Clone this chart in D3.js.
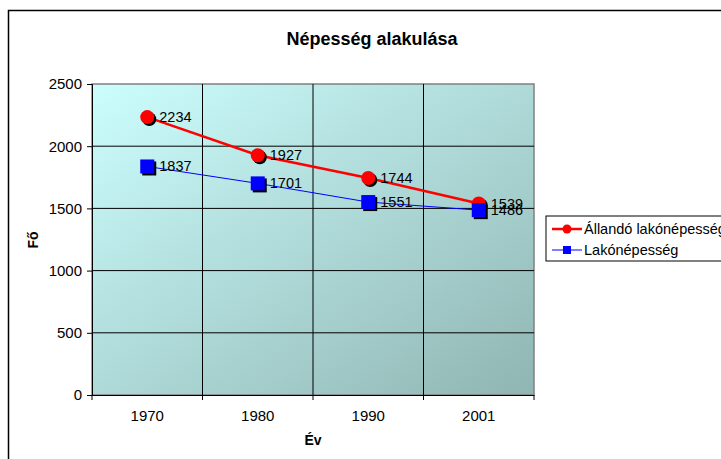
<!DOCTYPE html>
<html>
<head>
<meta charset="utf-8">
<script src="https://cdn.jsdelivr.net/npm/d3@7"></script>
<style>
body { margin: 0; background: #fff; }
text { font-family: "Liberation Sans", Arial, sans-serif; }
</style>
</head>
<body>
<div id="chart"></div>
<script>
var years = ['1970', '1980', '1990', '2001'];
var allando = [2234, 1927, 1744, 1539];
var lako = [1837, 1701, 1551, 1486];
var yTicks = [0, 500, 1000, 1500, 2000, 2500];

var svgWidth = 721;
var svgHeight = 459;

var margin = { top: 84, left: 92 };
var width = 442;
var height = 311;

var svg = d3.select('#chart')
    .append('svg')
    .attr('width', svgWidth)
    .attr('height', svgHeight);

var defs = svg.append('defs');
var grad = defs.append('linearGradient')
    .attr('id', 'bg')
    .attr('x1', '0').attr('y1', '0')
    .attr('x2', '1').attr('y2', '1');
grad.append('stop').attr('offset', '0%').attr('stop-color', '#ccfefe');
grad.append('stop').attr('offset', '100%').attr('stop-color', '#90b5b2');

// outer chart border
svg.append('rect')
    .attr('x', 8.5).attr('y', 10.5)
    .attr('width', 740).attr('height', 460)
    .attr('fill', 'none')
    .attr('stroke', '#000')
    .attr('stroke-width', 1.5);

svg.append('text')
    .attr('x', 372).attr('y', 45)
    .attr('text-anchor', 'middle')
    .attr('font-size', '18px')
    .attr('font-weight', 'bold')
    .text('Népesség alakulása');

var chartGroup = svg.append('g')
    .attr('transform', `translate(${margin.left}, ${margin.top})`);

var x = d3.scaleBand().domain(years).range([0, width]);
var y = d3.scaleLinear().domain([0, 2500]).range([height, 0]);

chartGroup.append('rect')
    .attr('width', width).attr('height', height)
    .attr('fill', 'url(#bg)')
    .attr('stroke', '#808080')
    .attr('stroke-width', 1.5);

// gridlines
chartGroup.selectAll('line.hgrid')
    .data(yTicks.slice(1, -1))
    .enter().append('line')
    .attr('class', 'hgrid')
    .attr('x1', 0).attr('x2', width)
    .attr('y1', d => y(d)).attr('y2', d => y(d))
    .attr('stroke', '#000').attr('stroke-width', 1);

chartGroup.selectAll('line.vgrid')
    .data(years.slice(1))
    .enter().append('line')
    .attr('class', 'vgrid')
    .attr('x1', d => x(d)).attr('x2', d => x(d))
    .attr('y1', 0).attr('y2', height)
    .attr('stroke', '#000').attr('stroke-width', 1);

var leftAxis = d3.axisLeft(y).tickValues(yTicks).tickFormat(d3.format('d')).tickSize(5).tickPadding(5);
var gy = chartGroup.append('g').call(leftAxis);
gy.select('.domain').attr('stroke', '#000');
gy.selectAll('text').attr('fill', '#000')
    .style('font-size', '15px')
    .style('font-family', '"Liberation Sans", Arial, sans-serif');

var bottomAxis = d3.axisBottom(x).tickSize(0).tickPadding(15);
var gx = chartGroup.append('g')
    .attr('transform', `translate(0, ${height})`)
    .call(bottomAxis);
gx.select('.domain').attr('stroke', '#000');
gx.selectAll('text').attr('fill', '#000')
    .style('font-size', '15px')
    .style('font-family', '"Liberation Sans", Arial, sans-serif');
gx.selectAll('line.edge')
    .data(years.concat(['end']))
    .enter().append('line')
    .attr('class', 'edge')
    .attr('x1', d => d === 'end' ? width : x(d))
    .attr('x2', d => d === 'end' ? width : x(d))
    .attr('y1', 0).attr('y2', 5)
    .attr('stroke', '#000');

var cx = d => x(d) + x.bandwidth() / 2;

function drawSeries(vals, color, lw, shape) {
    var pts = years.map((yr, i) => ({ yr: yr, v: vals[i] }));
    var line = d3.line().x(d => cx(d.yr)).y(d => y(d.v));
    chartGroup.append('path')
        .datum(pts)
        .attr('d', line)
        .attr('fill', 'none')
        .attr('stroke', color)
        .attr('stroke-width', lw);
    var g = chartGroup.append('g');
    pts.forEach(function(d) {
        var px = cx(d.yr), py = y(d.v);
        if (shape === 'circle') {
            g.append('circle').attr('cx', px + 2).attr('cy', py + 2).attr('r', 7).attr('fill', '#000');
            g.append('circle').attr('cx', px).attr('cy', py).attr('r', 7).attr('fill', color);
        } else {
            g.append('rect').attr('x', px - 7 + 2).attr('y', py - 7 + 2).attr('width', 14).attr('height', 14).attr('fill', '#000');
            g.append('rect').attr('x', px - 7).attr('y', py - 7).attr('width', 14).attr('height', 14).attr('fill', color);
        }
    });
    chartGroup.selectAll(null)
        .data(pts)
        .enter().append('text')
        .attr('x', d => cx(d.yr) + 12)
        .attr('y', d => y(d.v) + 5)
        .style('font-size', '14.5px')
        .text(d => d.v);
}

drawSeries(allando, '#ff0000', 2.5, 'circle');
drawSeries(lako, '#0000ff', 1, 'square');

// axis titles
svg.append('text')
    .attr('transform', 'translate(38, 240) rotate(-90)')
    .attr('text-anchor', 'middle')
    .attr('font-size', '14px')
    .attr('font-weight', 'bold')
    .text('Fő');

svg.append('text')
    .attr('x', 313).attr('y', 445)
    .attr('text-anchor', 'middle')
    .attr('font-size', '14px')
    .attr('font-weight', 'bold')
    .text('Év');

// legend
var legend = svg.append('g').attr('transform', 'translate(546, 216)');
legend.append('rect')
    .attr('width', 220).attr('height', 45)
    .attr('fill', '#fff')
    .attr('stroke', '#000');
var series = [
    { name: 'Állandó lakónépesség', color: '#ff0000', lw: 2.5, shape: 'circle' },
    { name: 'Lakónépesség', color: '#0000ff', lw: 1, shape: 'square' }
];
series.forEach(function(s, i) {
    var ly = 13 + i * 21;
    legend.append('line')
        .attr('x1', 6).attr('x2', 36)
        .attr('y1', ly).attr('y2', ly)
        .attr('stroke', s.color).attr('stroke-width', s.lw);
    if (s.shape === 'circle') {
        legend.append('circle').attr('cx', 21).attr('cy', ly).attr('r', 4.5).attr('fill', s.color);
    } else {
        legend.append('rect').attr('x', 17).attr('y', ly - 4).attr('width', 8).attr('height', 8).attr('fill', s.color);
    }
    legend.append('text')
        .attr('x', 38).attr('y', ly + 5)
        .attr('font-size', '14.5px')
        .text(s.name);
});
</script>
</body>
</html>
